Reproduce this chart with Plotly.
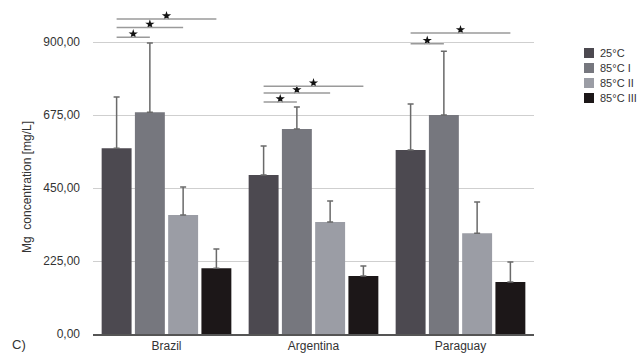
import plotly.graph_objects as go

countries = ["Brazil", "Argentina", "Paraguay"]
series_names = ["25°C", "85°C I", "85°C II", "85°C III"]
colors = ["#4c4950", "#76777e", "#9b9da5", "#1c1718"]

# mean values (mg/L)
v_25 = [573, 490, 567]
v_85_1 = [684, 632, 675]
v_85_2 = [367, 345, 311]
v_85_3 = [203, 179, 160]
# upper error (SD) values
e_25 = [158, 90, 142]
e_85_1 = [213, 68, 197]
e_85_2 = [86, 65, 96]
e_85_3 = [59, 31, 62]

values = [v_25, v_85_1, v_85_2, v_85_3]
errors = [e_25, e_85_1, e_85_2, e_85_3]

tick_vals = [0, 225, 450, 675, 900]
tick_text = ["0,00", "225,00", "450,00", "675,00", "900,00"]

# significance brackets: (country index, series a, series b, y level)
sig_pairs = [
    (0, 0, 1, 915), (0, 0, 2, 945), (0, 0, 3, 971),
    (1, 0, 1, 715), (1, 0, 2, 743), (1, 0, 3, 764),
    (2, 0, 1, 895), (2, 0, 3, 928),
]

FONT = "Liberation Sans, Arial, sans-serif"
bargap = 0.095
slot = (1 - bargap) / len(series_names)
xpos = list(range(len(countries)))

fig = go.Figure()
for k, name in enumerate(series_names):
    fig.add_trace(go.Bar(
        x=xpos, y=values[k], name=name,
        marker=dict(color=colors[k], line=dict(width=0)),
        error_y=dict(type="data", array=errors[k], arrayminus=[0] * 3,
                     symmetric=False, color="#6a6a6a", thickness=1.5, width=3),
        showlegend=False,
    ))

def bar_center(i, k):
    return i + (k - (len(series_names) - 1) / 2) * slot

star_x, star_y = [], []
for (i, a, b, yl) in sig_pairs:
    x0, x1 = bar_center(i, a), bar_center(i, b)
    fig.add_shape(type="line", xref="x", yref="y", x0=x0, x1=x1, y0=yl, y1=yl,
                  line=dict(color="#9a9a9a", width=1.5))
    star_x.append((x0 + x1) / 2)
    star_y.append(yl + 10)

fig.add_trace(go.Scatter(x=star_x, y=star_y, mode="markers",
                         marker=dict(symbol="star", size=7, color="#111111"),
                         showlegend=False, hoverinfo="skip"))

# custom legend
L, R = 93, 534
T, B = 10, 334
W, H = R - L, B - T
def px_x(p):
    return (p - L) / W
def px_y(p):
    return (B - p) / H

for k, name in enumerate(series_names):
    cy = 53 + 15 * k
    fig.add_shape(type="rect", xref="paper", yref="paper",
                  x0=px_x(584), x1=px_x(594), y0=px_y(cy + 5), y1=px_y(cy - 5),
                  fillcolor=colors[k], line=dict(width=0))
    fig.add_annotation(xref="paper", yref="paper", x=px_x(598), y=px_y(cy),
                       text=name, showarrow=False, xanchor="left", yanchor="middle",
                       font=dict(family=FONT, size=11, color="#333333"))

fig.add_annotation(xref="paper", yref="paper", x=px_x(27), y=px_y(187),
                   text="Mg  concentration [mg/L]", textangle=-90, showarrow=False,
                   xanchor="center", yanchor="middle",
                   font=dict(family=FONT, size=12, color="#333333"))

fig.add_annotation(xref="paper", yref="paper", x=px_x(10), y=px_y(354),
                   text="C)", showarrow=False, xanchor="left", yanchor="bottom",
                   font=dict(family=FONT, size=13, color="#333333"))

fig.update_layout(
    width=640, height=354,
    margin=dict(l=L, r=640 - R, t=T, b=354 - B, pad=0, autoexpand=False),
    paper_bgcolor="white", plot_bgcolor="white",
    barmode="group", bargap=bargap, bargroupgap=0.1,
    font=dict(family=FONT, size=12, color="#333333"),
    xaxis=dict(range=[-0.5, 2.5], tickvals=xpos, ticktext=countries,
               showline=True, linecolor="#555555", linewidth=1.5,
               showgrid=False, zeroline=False, ticks="", automargin=False,
               tickfont=dict(size=12, color="#333333")),
    yaxis=dict(range=[0, 999], tickvals=tick_vals, ticktext=tick_text,
               showgrid=True, gridcolor="#cfcfcf", gridwidth=1,
               zeroline=False, showline=False, ticks="", automargin=False,
               ticklabelstandoff=12, tickfont=dict(size=12, color="#333333")),
)

fig.write_html("out.html", config={"displayModeBar": False},
               post_script="document.body.style.margin='0';document.body.style.overflow='hidden';")
